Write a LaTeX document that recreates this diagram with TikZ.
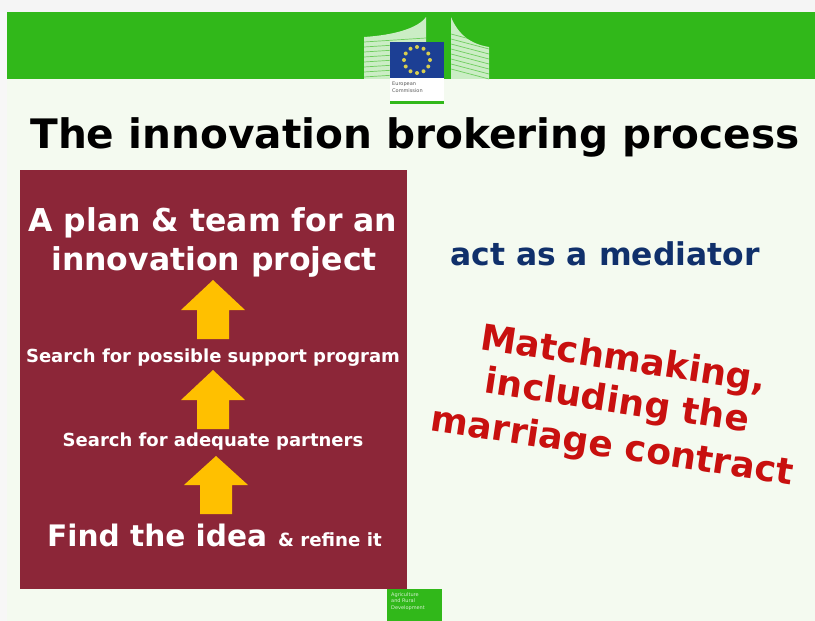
\documentclass[tikz,border=0pt]{standalone}
\usepackage{fontspec}
\setmainfont{DejaVu Sans}[BoldFont={DejaVu Sans Bold}]
\definecolor{pagebg}{HTML}{F4FAF0}
\definecolor{topgreen}{HTML}{31B81A}
\definecolor{maroon}{HTML}{8C2638}
\definecolor{arrowy}{HTML}{FFC000}
\definecolor{navy}{HTML}{10306B}
\definecolor{redt}{HTML}{C8100F}
\definecolor{euBlue}{HTML}{1C3F94}
\definecolor{star}{HTML}{D8CF50}
\tikzset{
  wtext/.style={text=white,font=\bfseries,inner sep=0pt,anchor=center},
  uparrow/.style={fill=arrowy,draw=none},
  redline/.style={text=redt,font=\fontsize{36}{36}\selectfont\bfseries,inner sep=0pt,rotate=-8.5,anchor=center},
}
\begin{document}
\begin{tikzpicture}[x=1pt,y=-1pt]
\useasboundingbox (0,0) rectangle (815,621);
\fill[pagebg] (0,0) rectangle (815,621);
\fill[white!96!black] (0,0) rectangle (815,12);
\fill[white!97!black] (0,12) rectangle (7,621);
\fill[topgreen] (7,12) rectangle (815,79);
% building
\fill[white,opacity=.75] (364,79) -- (364,37) .. controls (395,35) and (418,28) .. (426,17) -- (426,79) -- cycle;
\fill[white,opacity=.75] (451,17) .. controls (458,34) and (470,44) .. (489,47) -- (489,79) -- (451,79) -- cycle;
\foreach \y in {42,47,...,77}{
  \draw[topgreen,line width=.7pt,opacity=.6] (364,\y) -- (426,\y-4);
  \draw[topgreen,line width=.7pt,opacity=.6] (451,\y-8) -- (489,\y+2);
}
% logo
\fill[white] (390,42) rectangle (444,104);
\fill[euBlue] (390,42) rectangle (444,78);
\foreach \a in {0,30,...,330}{\fill[star] ({417+13*cos(\a)},{60+13*sin(\a)}) circle (2);}
\node[inner sep=0pt,font=\fontsize{5}{6.5}\selectfont,text=black!65,align=left,anchor=north west] (ec) at (392,82) {European\\Commission};
\fill[topgreen] (390,101) rectangle (444,104);
% title
\node[inner sep=0pt,font=\fontsize{40.6}{40.6}\selectfont\bfseries,text=black] (title) at (415,137) {The innovation brokering process};
% panel
\fill[maroon] (20,170) rectangle (407,589);
\node[wtext,font=\fontsize{31.5}{31.5}\selectfont\bfseries] (plan) at (213,223) {A plan \& team for an};
\node[wtext,font=\fontsize{31.5}{31.5}\selectfont\bfseries] (proj) at (214,262) {innovation project};
\fill[uparrow] (213,280) -- (245,310) -- (229,310) -- (229,339) -- (197,339) -- (197,310) -- (181,310) -- cycle;
\node[wtext,font=\fontsize{18}{18}\selectfont\bfseries] (support) at (213,358) {Search for possible support program};
\fill[uparrow] (213,370) -- (245,400) -- (229,400) -- (229,429) -- (197,429) -- (197,400) -- (181,400) -- cycle;
\node[wtext,font=\fontsize{18}{18}\selectfont\bfseries] (partners) at (213,442) {Search for adequate partners};
\fill[uparrow] (216,456) -- (248,485) -- (232,485) -- (232,514) -- (200,514) -- (200,485) -- (184,485) -- cycle;
\node[wtext,anchor=base west,font=\fontsize{29.6}{29.6}\selectfont\bfseries] (idea) at (47,546) {Find the idea};
\node[wtext,anchor=base west,font=\fontsize{18.2}{18.2}\selectfont\bfseries] (refine) at (278,546) {\& refine it};
% right text
\node[inner sep=0pt,text=navy,font=\fontsize{31.4}{31.4}\selectfont\bfseries] (med) at (605,254) {act as a mediator};
\node[redline] (m1) at (623,361) {Matchmaking,};
\node[redline] (m2) at (617,403) {including the};
\node[redline] (m3) at (612,448) {marriage contract};
% footer logo
\fill[topgreen] (387,589) rectangle (442,621);
\node[inner sep=0pt,font=\fontsize{5}{6.5}\selectfont,text=white!80!topgreen,align=left,anchor=north west] (dg) at (391,592) {Agriculture\\and Rural\\Development};
\end{tikzpicture}
\end{document}
